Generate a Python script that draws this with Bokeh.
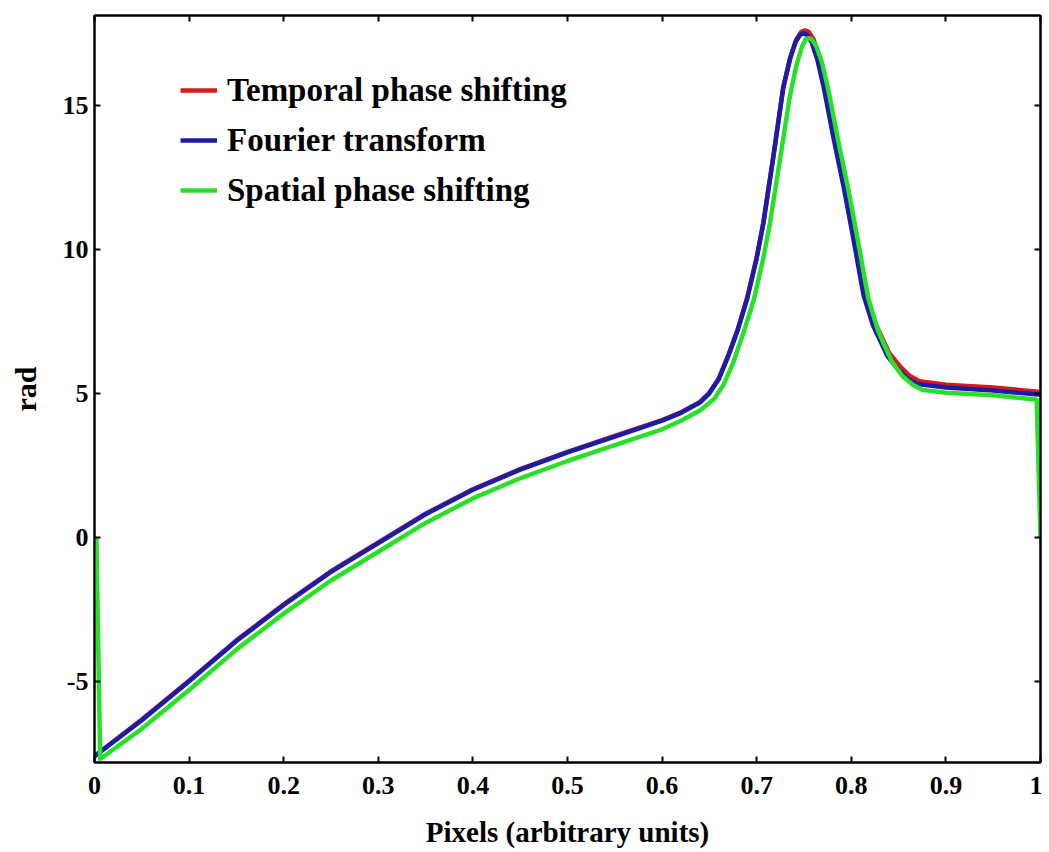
from bokeh.plotting import figure
from bokeh.models import Range1d, LinearAxis, FixedTicker, Legend, LegendItem
from bokeh.embed import file_html
from bokeh.resources import INLINE

# ---- data ----
x_ticks = [0, 0.1, 0.2, 0.3, 0.4, 0.5, 0.6, 0.7, 0.8, 0.9, 1.0]
x_tick_labels = ["0", "0.1", "0.2", "0.3", "0.4", "0.5", "0.6", "0.7", "0.8", "0.9", "1"]
y_ticks = [-5, 0, 5, 10, 15]
y_tick_labels = ["-5", "0", "5", "10", "15"]

blue_x = [0.0, 0.05, 0.1, 0.15, 0.2, 0.25, 0.3, 0.35, 0.4, 0.45, 0.5, 0.55, 0.6, 0.62,
          0.64, 0.65, 0.66, 0.67, 0.68, 0.69, 0.70, 0.707, 0.718, 0.728, 0.735, 0.741, 0.746,
          0.7495, 0.753, 0.758, 0.764, 0.771, 0.781, 0.792, 0.802, 0.813, 0.823, 0.831,
          0.838, 0.849, 0.86, 0.87, 0.9, 0.95, 1.0]
blue_y = [-7.6, -6.35, -5.0, -3.6, -2.35, -1.2, -0.2, 0.8, 1.65, 2.35, 2.95, 3.5, 4.05, 4.32,
          4.68, 5.0, 5.5, 6.3, 7.2, 8.3, 9.7, 10.9, 13.3, 15.6, 16.6, 17.2, 17.45,
          17.5, 17.45, 17.2, 16.6, 15.6, 13.9, 12.15, 10.4, 8.4, 7.35, 6.8,
          6.3, 5.85, 5.5, 5.32, 5.2, 5.1, 4.95]

red_x = [0.0, 0.05, 0.1, 0.15, 0.2, 0.25, 0.3, 0.35, 0.4, 0.45, 0.5, 0.55, 0.6, 0.62,
         0.64, 0.65, 0.66, 0.67, 0.68, 0.69, 0.70, 0.707, 0.718, 0.728, 0.736, 0.742, 0.747,
         0.751, 0.755, 0.76, 0.766, 0.773, 0.783, 0.794, 0.804, 0.815, 0.825, 0.833,
         0.84, 0.851, 0.862, 0.872, 0.9, 0.95, 1.0]
red_y = [-7.6, -6.33, -4.98, -3.58, -2.33, -1.18, -0.18, 0.82, 1.67, 2.37, 2.97, 3.52, 4.07, 4.34,
         4.7, 5.02, 5.52, 6.32, 7.22, 8.32, 9.72, 10.92, 13.32, 15.62, 16.7, 17.3, 17.55,
         17.6, 17.55, 17.3, 16.7, 15.7, 14.0, 12.25, 10.5, 8.5, 7.45, 6.9,
         6.4, 5.95, 5.6, 5.42, 5.3, 5.2, 5.05]

green_x = [0.002, 0.006, 0.05, 0.1, 0.15, 0.2, 0.25, 0.3, 0.35, 0.4, 0.45, 0.5, 0.55, 0.6, 0.62,
           0.64, 0.655, 0.665, 0.675, 0.686, 0.697, 0.707, 0.714, 0.725, 0.735, 0.742, 0.748, 0.752,
           0.755, 0.758, 0.763, 0.769, 0.776, 0.786, 0.797, 0.807, 0.818, 0.828, 0.836,
           0.843, 0.854, 0.865, 0.875, 0.9, 0.95, 0.996, 1.0]
green_y = [0.0, -7.7, -6.65, -5.3, -3.9, -2.65, -1.5, -0.5, 0.5, 1.35, 2.05, 2.65, 3.2, 3.75, 4.05,
           4.4, 4.8, 5.3, 6.05, 7.1, 8.25, 9.7, 10.9, 13.2, 15.3, 16.4, 17.05, 17.3,
           17.33, 17.3, 17.05, 16.5, 15.5, 13.8, 12.05, 10.3, 8.3, 7.2, 6.6,
           6.1, 5.6, 5.3, 5.12, 5.02, 4.93, 4.78, 0.0]

series_names = ["Temporal phase shifting", "Fourier transform", "Spatial phase shifting"]

# ---- styling ----
FONT = "Liberation Serif"
RED = "#d8181c"
BLUE = "#1c1ca8"
GREEN = "#28e028"

p = figure(frame_width=946, frame_height=747,
           x_range=Range1d(0, 1), y_range=Range1d(-7.82, 18.12),
           output_backend="svg", toolbar_location=None,
           min_border_left=94, min_border_top=15, min_border_right=2, min_border_bottom=10)

p.xgrid.visible = False
p.ygrid.visible = False
p.outline_line_color = "black"
p.outline_line_width = 2
p.background_fill_color = "white"
p.border_fill_color = "white"

r_red = p.line(red_x, red_y, line_color=RED, line_width=4.5, line_join="round")
r_blue = p.line(blue_x, blue_y, line_color=BLUE, line_width=4.5, line_join="round")
r_green = p.line(green_x, green_y, line_color=GREEN, line_width=4.5, line_join="round")


def style_axis(ax, ticks, labels, show_labels=True, standoff=10):
    ax.ticker = FixedTicker(ticks=ticks)
    ax.major_label_overrides = {t: (l if show_labels else "") for t, l in zip(ticks, labels)}
    ax.major_tick_in = 6
    ax.major_tick_out = 0
    ax.major_tick_line_width = 2
    ax.major_tick_line_color = "black"
    ax.minor_tick_line_color = None
    ax.axis_line_color = "black"
    ax.axis_line_width = 2
    ax.major_label_text_font = FONT
    ax.major_label_text_font_style = "bold"
    ax.major_label_text_color = "black"
    if show_labels:
        ax.major_label_text_font_size = "26px"
        ax.major_label_standoff = standoff
    else:
        ax.major_label_text_font_size = "1px"
        ax.major_label_standoff = 0


xb = p.xaxis[0]
style_axis(xb, x_ticks, x_tick_labels, standoff=14)
xb.axis_label = "Pixels (arbitrary units)"
xb.axis_label_text_font = FONT
xb.axis_label_text_font_style = "bold"
xb.axis_label_text_font_size = "29px"
xb.axis_label_standoff = 19
xb.axis_label_text_color = "black"

yl = p.yaxis[0]
style_axis(yl, y_ticks, y_tick_labels, standoff=6)
yl.axis_label = "rad"
yl.axis_label_text_font = FONT
yl.axis_label_text_font_style = "bold"
yl.axis_label_text_font_size = "30px"
yl.axis_label_standoff = 18
yl.axis_label_text_color = "black"

xt = LinearAxis()
style_axis(xt, x_ticks, x_tick_labels, show_labels=False)
p.add_layout(xt, "above")
yr = LinearAxis()
style_axis(yr, y_ticks, y_tick_labels, show_labels=False)
p.add_layout(yr, "right")

legend = Legend(items=[LegendItem(label=series_names[0], renderers=[r_red]),
                       LegendItem(label=series_names[1], renderers=[r_blue]),
                       LegendItem(label=series_names[2], renderers=[r_green])],
                location=(86, 552))
legend.border_line_color = None
legend.background_fill_alpha = 0
legend.padding = 0
legend.margin = 0
legend.spacing = 10
legend.label_height = 40
legend.glyph_height = 40
legend.glyph_width = 37
legend.label_standoff = 10
legend.label_text_font = FONT
legend.label_text_font_style = "bold"
legend.label_text_font_size = "33px"
legend.label_text_color = "black"
p.add_layout(legend)

open("out.html", "w").write(file_html(p, INLINE))
